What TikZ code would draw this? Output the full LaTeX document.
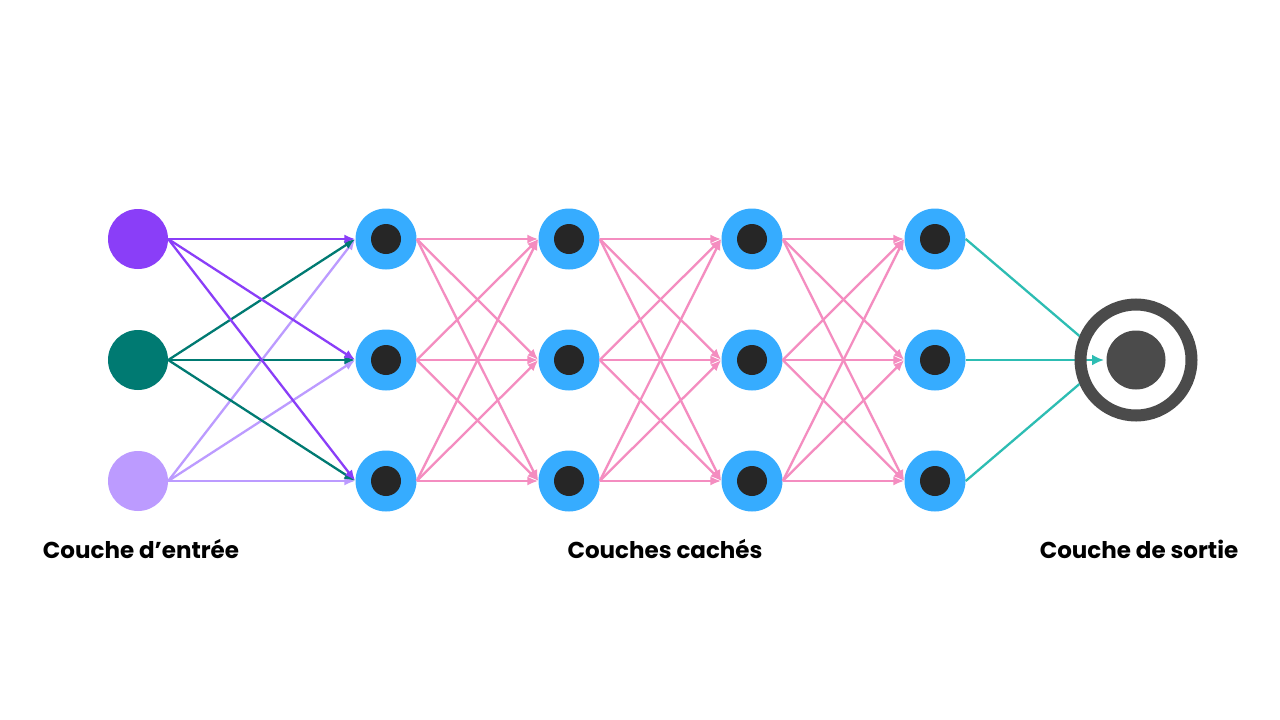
\documentclass[tikz,border=0pt]{standalone}
\usepackage{fontspec}
\setmainfont{Poppins}
\usetikzlibrary{arrows.meta}
\definecolor{inpurple}{HTML}{8A3EF8}
\definecolor{inteal}{HTML}{007A72}
\definecolor{inlilac}{HTML}{BC9BFF}
\definecolor{hblue}{HTML}{36ACFF}
\definecolor{hdark}{HTML}{262626}
\definecolor{epink}{HTML}{F48DC0}
\definecolor{oteal}{HTML}{2DBDB3}
\definecolor{ogray}{HTML}{4B4B4B}
\tikzset{
  innode/.style={circle, inner sep=0pt, minimum size=60pt},
  hidnode/.style={circle, inner sep=0pt, minimum size=61pt, fill=hblue,
    path picture={\fill[hdark] (path picture bounding box.center) circle (15pt);}},
  outnode/.style={circle, inner sep=0pt, minimum size=111pt, draw=ogray, line width=12pt,
    path picture={\fill[ogray] (path picture bounding box.center) circle (29.5pt);}},
  conn/.style={line width=2.3pt, -{Latex[length=11pt,width=9pt]}},
  pinkconn/.style={conn, color=epink},
  outconn/.style={line width=2.3pt, draw=oteal},
  lbl/.style={font=\bfseries\fontsize{23}{27}\selectfont, text=black, inner sep=0pt}
}
\begin{document}
\begin{tikzpicture}[x=1pt,y=-1pt]
\useasboundingbox (0,0) rectangle (1280,720);
\fill[white] (0,0) rectangle (1280,720);
% input nodes
\node[innode, fill=inpurple] (i1) at (138,239) {};
\node[innode, fill=inteal] (i2) at (138,360) {};
\node[innode, fill=inlilac] (i3) at (138,481) {};
% hidden nodes
\foreach \c/\x in {1/386,2/569,3/752,4/935}{
  \node[hidnode] (h\c1) at (\x,239) {};
  \node[hidnode] (h\c2) at (\x,360) {};
  \node[hidnode] (h\c3) at (\x,481) {};
}
% input connections
\foreach \j in {1,2,3}{
  \draw[conn, inlilac] (i3.east) -- (h1\j.west);
}
\foreach \j in {1,2,3}{
  \draw[conn, inteal] (i2.east) -- (h1\j.west);
}
\foreach \j in {1,2,3}{
  \draw[conn, inpurple] (i1.east) -- (h1\j.west);
}
% hidden connections
\foreach \a/\b in {1/2,2/3,3/4}{
  \foreach \i in {1,2,3}{
    \foreach \j in {1,2,3}{
      \draw[pinkconn] (h\a\i.east) -- (h\b\j.west);
    }
  }
}
% output
\coordinate (otip) at (1104,360);
\draw[outconn, -{Latex[length=12pt,width=11pt]}] (h42.east) -- (otip);
\node[outnode] (out) at (1136,360) {};
\draw[outconn] (h41.east) -- (out.157);
\draw[outconn] (h43.east) -- (out.-157);
% labels
\node[lbl] (l1) at (141,549) {Couche d’entrée};
\node[lbl] (l2) at (665,549) {Couches cachés};
\node[lbl] (l3) at (1139,549) {Couche de sortie};
\end{tikzpicture}
\end{document}
